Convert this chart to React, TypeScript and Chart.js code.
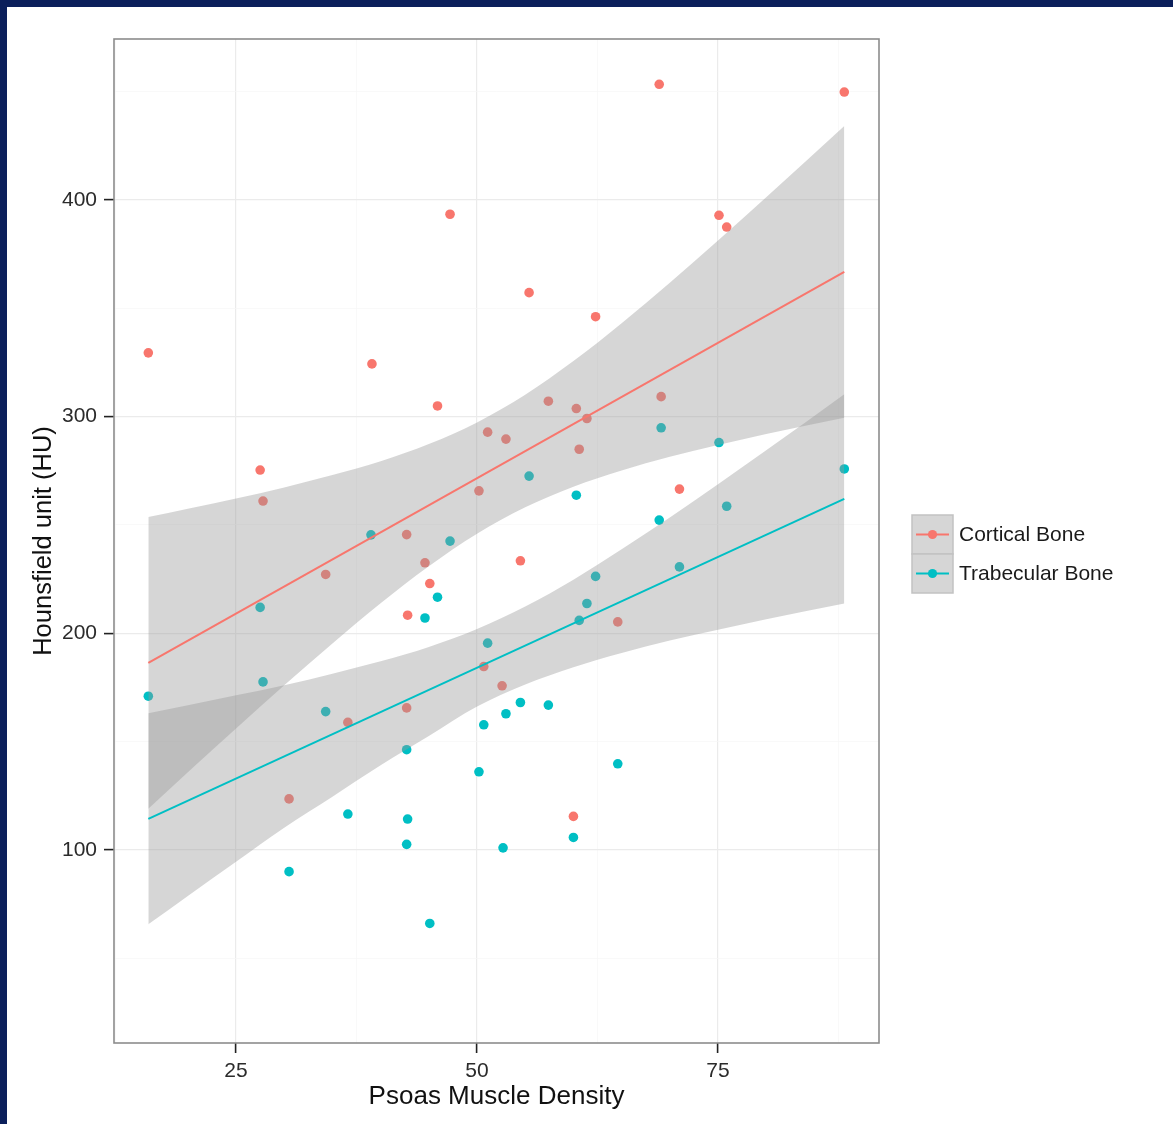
import React, { useEffect, useRef } from 'react';
import { Chart, registerables } from 'chart.js';

Chart.register(...registerables);

// ---- Data ----
const seriesNames = ['Cortical Bone', 'Trabecular Bone'];
const seriesColors = ['#F8766D', '#00BFC4'];

const corticalDensity = [15.9, 27.5, 27.8, 30.5, 34.3, 36.6, 39.1, 42.7, 42.8, 42.7, 44.6, 45.1, 45.9, 47.2, 50.2, 50.7, 51.1, 52.6, 53.0, 54.5, 55.4, 57.4, 60.0, 60.3, 60.6, 61.4, 62.3, 64.6, 68.9, 69.1, 71.0, 75.1, 75.9, 88.1];
const corticalHU = [329.4, 275.3, 261.0, 123.5, 227.1, 158.8, 324.3, 245.5, 208.3, 165.5, 232.5, 222.9, 304.9, 393.4, 265.7, 184.6, 292.8, 175.7, 289.6, 233.4, 357.2, 307.1, 115.4, 303.7, 284.9, 299.1, 346.1, 205.2, 453.4, 309.2, 266.5, 392.9, 387.5, 449.8];

const trabecularDensity = [15.9, 27.5, 27.8, 30.5, 34.3, 36.6, 39.0, 42.7, 42.8, 42.7, 44.6, 45.1, 45.9, 47.2, 50.2, 50.7, 51.1, 52.7, 53.0, 54.5, 55.4, 57.4, 60.0, 60.3, 60.6, 61.4, 62.3, 64.6, 68.9, 69.1, 71.0, 75.1, 75.9, 88.1];
const trabecularHU = [170.9, 211.9, 177.5, 89.9, 163.8, 116.5, 245.4, 146.2, 114.2, 102.5, 207.0, 66.0, 216.6, 242.5, 136.0, 157.7, 195.4, 100.9, 162.8, 168.0, 272.5, 166.8, 105.7, 263.7, 205.9, 213.7, 226.2, 139.7, 252.2, 294.8, 230.6, 288.0, 258.6, 275.8];

const fitDensity = [15.9, 88.1];
const corticalFit = [186.3, 366.8];
const trabecularFit = [114.3, 262.0];

const bandDensity = [15.9, 20, 25, 30, 35, 40, 45, 50, 55, 60, 65, 70, 75, 80, 88.1];
const corticalUpper = [253.6, 257.4, 262.2, 267.3, 273.0, 279.4, 287.3, 297.3, 310.1, 325.6, 343.1, 361.8, 381.3, 401.2, 434.1];
const corticalLower = [119.0, 135.8, 156.0, 175.9, 195.2, 213.8, 230.9, 245.9, 258.1, 267.6, 275.1, 281.4, 286.9, 292.0, 299.5];
const trabecularUpper = [163.0, 166.7, 171.3, 176.0, 181.3, 187.0, 193.6, 201.9, 212.3, 224.7, 238.7, 253.4, 268.8, 284.4, 310.3];
const trabecularLower = [65.6, 78.7, 94.5, 110.2, 124.5, 139.0, 152.5, 166.1, 176.3, 184.3, 190.9, 196.6, 201.6, 206.4, 213.7];

const xMajorTicks = [25, 50, 75];
const xMinorTicks = [12.5, 37.5, 62.5, 87.5];
const yMajorTicks = [100, 200, 300, 400];
const yMinorTicks = [50, 150, 250, 350, 450];

const xTitle = 'Psoas Muscle Density';
const yTitle = 'Hounsfield unit (HU)';

const FONT = '"Liberation Sans", Arial, Helvetica, sans-serif';
const NAVY = '#0b1f5b';
const RIBBON = 'rgba(153,153,153,0.4)';

const pts = (xs: number[], ys: number[]) => xs.map((x, i) => ({ x, y: ys[i] }));

const decorPlugin = {
  id: 'decor',
  beforeDraw(chart: any) {
    const { ctx, width, height } = chart;
    ctx.save();
    ctx.fillStyle = '#ffffff';
    ctx.fillRect(0, 0, width, height);
    ctx.fillStyle = NAVY;
    ctx.fillRect(0, 0, width, 7);
    ctx.fillRect(0, 0, 7, height);
    ctx.restore();
  },
  afterDatasetsDraw(chart: any) {
    const { ctx, chartArea } = chart;
    ctx.save();
    ctx.strokeStyle = '#8c8c8c';
    ctx.lineWidth = 1.6;
    ctx.strokeRect(chartArea.left, chartArea.top, chartArea.right - chartArea.left, chartArea.bottom - chartArea.top);
    ctx.restore();
  },
  afterDraw(chart: any) {
    const { ctx } = chart;
    const boxLeft = 912;
    const boxW = 41;
    const boxTop = 515;
    const boxH = 39;
    ctx.save();
    seriesNames.forEach((name, i) => {
      const top = boxTop + i * boxH;
      ctx.fillStyle = '#d6d6d6';
      ctx.fillRect(boxLeft, top, boxW, boxH);
      ctx.strokeStyle = '#c2c2c2';
      ctx.lineWidth = 1.5;
      ctx.strokeRect(boxLeft, top, boxW, boxH);
      const cy = top + boxH / 2;
      ctx.strokeStyle = seriesColors[i];
      ctx.lineWidth = 2;
      ctx.beginPath();
      ctx.moveTo(boxLeft + 4, cy);
      ctx.lineTo(boxLeft + boxW - 4, cy);
      ctx.stroke();
      ctx.fillStyle = seriesColors[i];
      ctx.beginPath();
      ctx.arc(boxLeft + boxW / 2, cy, 4.6, 0, Math.PI * 2);
      ctx.fill();
      ctx.fillStyle = '#1a1a1a';
      ctx.font = `21px ${FONT}`;
      ctx.textBaseline = 'middle';
      ctx.textAlign = 'left';
      ctx.fillText(name, boxLeft + boxW + 6, cy + 1);
    });
    ctx.restore();
  },
};

const gridOpts = (major: number[]) => ({
  color: (c: any) => (c.tick && major.includes(c.tick.value) ? '#ebebeb' : '#f6f6f6'),
  lineWidth: (c: any) => (c.tick && major.includes(c.tick.value) ? 1.2 : 0.7),
  tickColor: (c: any) => (c.tick && major.includes(c.tick.value) ? '#222222' : 'rgba(0,0,0,0)'),
  tickWidth: 1.6,
  tickLength: 10,
});

export default function App() {
  const ref = useRef<HTMLCanvasElement>(null);

  useEffect(() => {
    if (!ref.current) return;
    const chart = new Chart(ref.current, {
      type: 'line',
      data: {
        datasets: [
          {
            label: seriesNames[0],
            data: pts(corticalDensity, corticalHU),
            showLine: false,
            pointRadius: 4.8,
            pointBorderWidth: 0,
            pointBackgroundColor: seriesColors[0],
            borderColor: seriesColors[0],
            order: 3,
          },
          {
            label: seriesNames[1],
            data: pts(trabecularDensity, trabecularHU),
            showLine: false,
            pointRadius: 4.8,
            pointBorderWidth: 0,
            pointBackgroundColor: seriesColors[1],
            borderColor: seriesColors[1],
            order: 3,
          },
          {
            label: 'cortical upper',
            data: pts(bandDensity, corticalUpper),
            borderWidth: 0,
            borderColor: 'rgba(0,0,0,0)',
            pointRadius: 0,
            fill: '+1',
            backgroundColor: RIBBON,
            cubicInterpolationMode: 'monotone',
            order: 2,
          },
          {
            label: 'cortical lower',
            data: pts(bandDensity, corticalLower),
            borderWidth: 0,
            borderColor: 'rgba(0,0,0,0)',
            pointRadius: 0,
            fill: false,
            cubicInterpolationMode: 'monotone',
            order: 2,
          },
          {
            label: 'trabecular upper',
            data: pts(bandDensity, trabecularUpper),
            borderWidth: 0,
            borderColor: 'rgba(0,0,0,0)',
            pointRadius: 0,
            fill: '+1',
            backgroundColor: RIBBON,
            cubicInterpolationMode: 'monotone',
            order: 2,
          },
          {
            label: 'trabecular lower',
            data: pts(bandDensity, trabecularLower),
            borderWidth: 0,
            borderColor: 'rgba(0,0,0,0)',
            pointRadius: 0,
            fill: false,
            cubicInterpolationMode: 'monotone',
            order: 2,
          },
          {
            label: 'cortical fit',
            data: pts(fitDensity, corticalFit),
            borderColor: seriesColors[0],
            borderWidth: 2,
            pointRadius: 0,
            fill: false,
            order: 1,
          },
          {
            label: 'trabecular fit',
            data: pts(fitDensity, trabecularFit),
            borderColor: seriesColors[1],
            borderWidth: 2,
            pointRadius: 0,
            fill: false,
            order: 1,
          },
        ],
      },
      options: {
        animation: false,
        responsive: false,
        devicePixelRatio: 1,
        layout: { padding: { left: 0, top: 39, right: 294, bottom: 0 } },
        font: { family: FONT },
        plugins: {
          legend: { display: false },
          tooltip: { enabled: false },
          filler: { propagate: false },
        },
        scales: {
          x: {
            type: 'linear',
            min: 12.34,
            max: 91.7,
            afterBuildTicks: (s: any) => {
              s.ticks = [...xMinorTicks, ...xMajorTicks].sort((a, b) => a - b).map((v) => ({ value: v }));
            },
            afterFit: (s: any) => {
              s.height = 81;
            },
            ticks: {
              autoSkip: false,
              maxRotation: 0,
              padding: 6,
              color: '#2b2b2b',
              font: { size: 21, family: FONT },
              callback: (v: any) => (xMajorTicks.includes(Number(v)) ? String(v) : ''),
            },
            grid: gridOpts(xMajorTicks) as any,
            border: { display: false },
            title: {
              display: true,
              text: xTitle,
              color: '#111111',
              font: { size: 26, family: FONT },
              padding: { top: 0, bottom: 12 },
            },
          },
          y: {
            type: 'linear',
            min: 10.8,
            max: 474.3,
            afterBuildTicks: (s: any) => {
              s.ticks = [...yMinorTicks, ...yMajorTicks].sort((a, b) => a - b).map((v) => ({ value: v }));
            },
            afterFit: (s: any) => {
              s.width = 114;
            },
            ticks: {
              autoSkip: false,
              padding: 7,
              color: '#2b2b2b',
              font: { size: 21, family: FONT },
              callback: (v: any) => (yMajorTicks.includes(Number(v)) ? String(v) : ''),
            },
            grid: gridOpts(yMajorTicks) as any,
            border: { display: false },
            title: {
              display: true,
              text: yTitle,
              color: '#111111',
              font: { size: 25.5, family: FONT },
              padding: { top: 29, bottom: 0 },
            },
          },
        },
      } as any,
      plugins: [decorPlugin],
    });
    return () => chart.destroy();
  }, []);

  return (
    <div style={{ position: 'fixed', left: 0, top: 0, width: 1173, height: 1124 }}>
      <canvas ref={ref} width={1173} height={1124} style={{ display: 'block', width: 1173, height: 1124 }} />
    </div>
  );
}
